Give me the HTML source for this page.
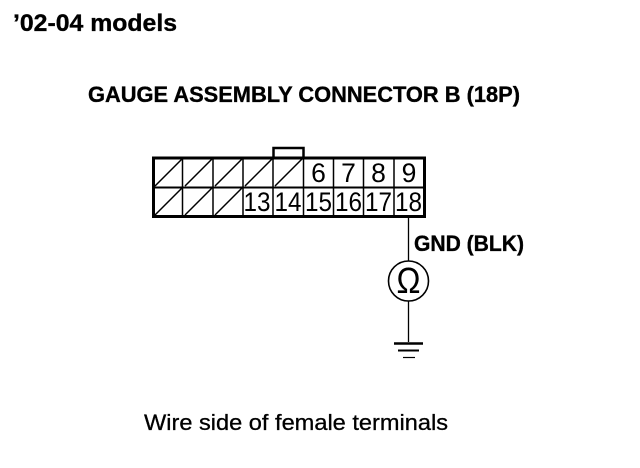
<!DOCTYPE html>
<html>
<head>
<meta charset="utf-8">
<style>
html,body{margin:0;padding:0;background:#fff;width:640px;height:468px;overflow:hidden}
svg{display:block}
text{font-family:"Liberation Sans",sans-serif;fill:#000}
.b{font-weight:bold;stroke:#000;stroke-width:.35px}
.r{stroke:#000;stroke-width:.3px}
</style>
</head>
<body>
<svg width="640" height="468" viewBox="0 0 640 468" xmlns="http://www.w3.org/2000/svg">
<rect width="640" height="468" fill="#fff"/>
<text class="b" x="13" y="31" font-size="24" textLength="164" lengthAdjust="spacingAndGlyphs">’02-04 models</text>
<text class="b" x="88" y="102" font-size="22" textLength="432" lengthAdjust="spacingAndGlyphs">GAUGE ASSEMBLY CONNECTOR B (18P)</text>

<g fill="none" stroke="#000">
<rect x="153.500" y="158" width="271" height="58.500" stroke-width="3"/>
<path d="M152 187.500H425" stroke-width="2"/>
<path d="M182.500 158V216M213 158V216M243 158V216M273 158V216M303.500 158V216M333.500 158V216M363.500 158V216M394 158V216" stroke-width="1.500"/>
<path d="M273.500 157V148H303.500V157" stroke-width="2.500"/>
<path d="M155 186L182 159M185 186L212 159M215 186L242 159M245 186L272 159M275 186L303 158M155 215L182 188M185 215L212 188M215 215L242 188" stroke-width="1.500"/>
<path d="M408.500 217V261M408.500 301V342" stroke-width="1.300"/>
<circle cx="408.500" cy="281" r="20" stroke-width="1.600"/>
<path d="M394 343.500H423" stroke-width="2.500"/>
<path d="M398 350.500H419" stroke-width="2"/>
<path d="M403 357.500H415" stroke-width="1.200"/>
</g>

<g font-size="26.500" text-anchor="middle">
<text x="318.500" y="182">6</text>
<text x="348.500" y="182">7</text>
<text x="378.500" y="182">8</text>
<text x="409" y="182">9</text>
<text x="257" y="211" textLength="27" lengthAdjust="spacingAndGlyphs">13</text>
<text x="288" y="211" textLength="27" lengthAdjust="spacingAndGlyphs">14</text>
<text x="318.500" y="211" textLength="27" lengthAdjust="spacingAndGlyphs">15</text>
<text x="348.500" y="211" textLength="27" lengthAdjust="spacingAndGlyphs">16</text>
<text x="378.500" y="211" textLength="27" lengthAdjust="spacingAndGlyphs">17</text>
<text x="408.500" y="211" textLength="27" lengthAdjust="spacingAndGlyphs">18</text>
</g>

<text class="b" x="414" y="251" font-size="22" textLength="110" lengthAdjust="spacingAndGlyphs">GND (BLK)</text>
<text x="396.500" y="293" font-size="36" textLength="24" lengthAdjust="spacingAndGlyphs">Ω</text>
<text class="r" x="144" y="430" font-size="22.500" textLength="304" lengthAdjust="spacingAndGlyphs">Wire side of female terminals</text>
</svg>
</body>
</html>
